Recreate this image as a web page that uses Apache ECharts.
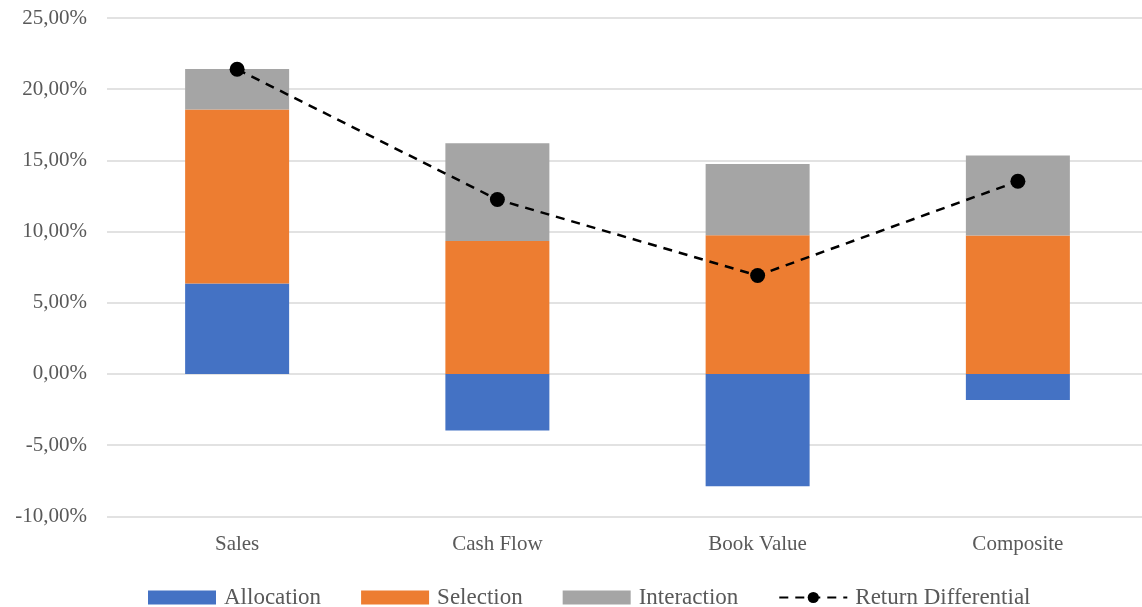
<!DOCTYPE html>
<html>
<head>
<meta charset="utf-8">
<script src="https://cdn.jsdelivr.net/npm/echarts@6/dist/echarts.min.js"></script>
<style>
  html, body { margin: 0; padding: 0; background: #fff; overflow: hidden; }
  #chart { width: 1148px; height: 607px; }
</style>
</head>
<body>
<div id="chart"></div>
<script>
// Return attribution by factor (values in percent)
const categories = ['Sales', 'Cash Flow', 'Book Value', 'Composite'];
const allocation = [6.35, -3.98, -7.89, -1.83];
const selection = [12.22, 9.34, 9.74, 9.72];
const interaction = [2.85, 6.86, 5.01, 5.62];
const returnDifferential = [21.40, 12.25, 6.91, 13.53];

const FONT = '"Liberation Serif", "DejaVu Serif", serif';
const TEXT = '#595959';

function pct(v) {
  return v.toFixed(2).replace('.', ',') + '%';
}

const chart = echarts.init(document.getElementById('chart'));
chart.setOption({
  animation: false,
  backgroundColor: '#ffffff',
  textStyle: { fontFamily: FONT },
  grid: { left: 107, top: 18, right: 0, bottom: 90.7, containLabel: false },
  legend: {
    top: 581,
    left: 143,
    itemWidth: 68,
    itemHeight: 14,
    itemGap: 40,
    textStyle: { fontFamily: FONT, fontSize: 23, color: TEXT, padding: [0, 0, 0, 3] },
    data: [
      { name: 'Allocation', icon: 'rect' },
      { name: 'Selection', icon: 'rect' },
      { name: 'Interaction', icon: 'rect' },
      'Return Differential'
    ]
  },
  xAxis: {
    type: 'category',
    data: categories,
    axisLine: { show: false, onZero: false },
    axisTick: { show: false },
    axisLabel: { color: TEXT, fontSize: 21, fontFamily: FONT, margin: 18 }
  },
  yAxis: {
    type: 'value',
    min: -10,
    max: 25,
    interval: 5,
    axisLine: { show: false },
    axisTick: { show: false },
    splitLine: { lineStyle: { color: '#D9D9D9', width: 1.5 } },
    axisLabel: { color: TEXT, fontSize: 21, fontFamily: FONT, margin: 20, formatter: pct }
  },
  series: [
    {
      name: 'Allocation', type: 'bar', stack: 'total', data: allocation,
      barWidth: 104, itemStyle: { color: '#4472C4' }
    },
    {
      name: 'Selection', type: 'bar', stack: 'total', data: selection,
      barWidth: 104, itemStyle: { color: '#ED7D31' }
    },
    {
      name: 'Interaction', type: 'bar', stack: 'total', data: interaction,
      barWidth: 104, itemStyle: { color: '#A5A5A5' }
    },
    {
      name: 'Return Differential', type: 'line', data: returnDifferential,
      symbol: 'circle', symbolSize: 15,
      lineStyle: { color: '#000', width: 2.5, type: [9, 7] },
      itemStyle: { color: '#000' },
      z: 5
    }
  ]
});
</script>
</body>
</html>
